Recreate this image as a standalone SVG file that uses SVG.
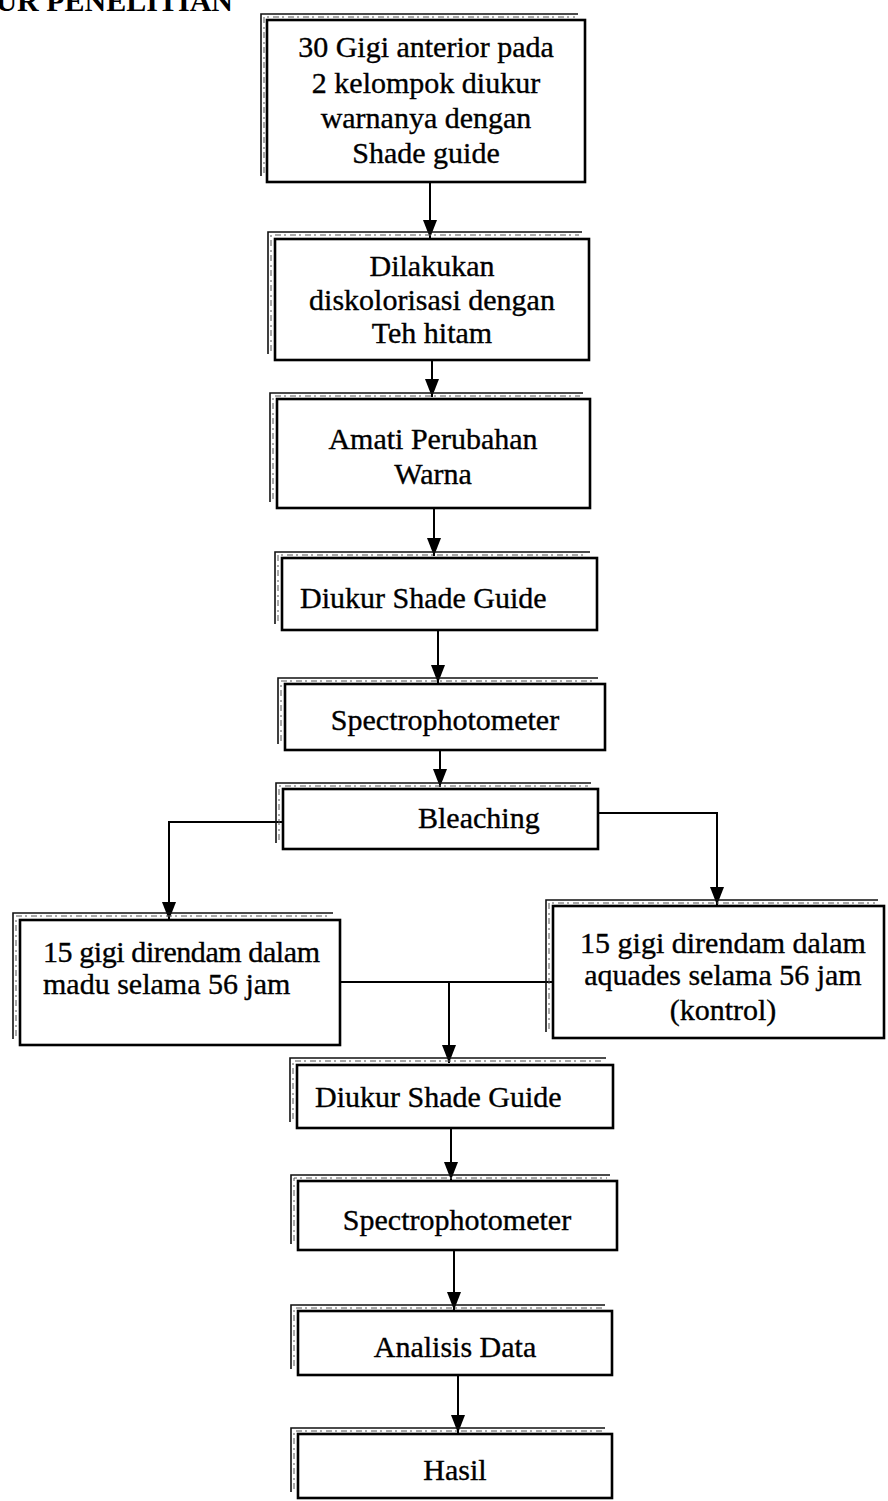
<svg xmlns="http://www.w3.org/2000/svg" width="888" height="1501" viewBox="0 0 888 1501">
<style>
.box{fill:#fff;stroke:#000;stroke-width:2.6}
.sh{fill:none;stroke:#111;stroke-width:1.6}
.sh2{fill:none;stroke:#555;stroke-width:1;stroke-dasharray:6 3 2 4}
.t{font-family:"Liberation Serif","Times New Roman",serif;font-size:30px;fill:#000;stroke:#000;stroke-width:0.35}
.c{text-anchor:middle}
.ln{fill:none;stroke:#000;stroke-width:2}
.title{font-family:"Liberation Serif","Times New Roman",serif;font-size:30px;font-weight:bold;fill:#000}
</style>
<defs>
<marker id="ah" viewBox="0 0 18 14" refX="18" refY="7" markerWidth="18" markerHeight="14" markerUnits="userSpaceOnUse" orient="auto">
<path d="M0,0 L18,7 L0,14 Z" fill="#000"/>
</marker>
</defs>
<rect width="888" height="1501" fill="#fff"/>
<text class="title" x="233" y="11" text-anchor="end">UR PENELITIAN</text>

<g id="connectors">
<path class="ln" d="M430,182 V238" marker-end="url(#ah)"/>
<path class="ln" d="M432,360 V397" marker-end="url(#ah)"/>
<path class="ln" d="M434,508 V556" marker-end="url(#ah)"/>
<path class="ln" d="M438,630 V683" marker-end="url(#ah)"/>
<path class="ln" d="M440,750 V787" marker-end="url(#ah)"/>
<path class="ln" d="M283,822 H169 V920" marker-end="url(#ah)"/>
<path class="ln" d="M598,813 H717 V905" marker-end="url(#ah)"/>
<path class="ln" d="M340,982 H553"/>
<path class="ln" d="M449,982 V1063" marker-end="url(#ah)"/>
<path class="ln" d="M451,1128 V1180" marker-end="url(#ah)"/>
<path class="ln" d="M454,1250 V1310" marker-end="url(#ah)"/>
<path class="ln" d="M458,1375 V1433" marker-end="url(#ah)"/>
</g>

<g id="n1">
<path class="sh" d="M261,176 V14 H578"/><path class="sh2" d="M264,173 V17 H575"/>
<rect class="box" x="267" y="20" width="318" height="162"/>
<text class="t c" x="426" y="57">30 Gigi anterior pada</text>
<text class="t c" x="426" y="93">2 kelompok diukur</text>
<text class="t c" x="426" y="128">warnanya dengan</text>
<text class="t c" x="426" y="163">Shade guide</text>
</g>

<g id="n2">
<path class="sh" d="M268,354 V232 H582"/><path class="sh2" d="M271,351 V235 H579"/>
<rect class="box" x="275" y="239" width="314" height="121"/>
<text class="t c" x="432" y="276">Dilakukan</text>
<text class="t c" x="432" y="310">diskolorisasi dengan</text>
<text class="t c" x="432" y="343">Teh hitam</text>
</g>

<g id="n3">
<path class="sh" d="M270,502 V393 H583"/><path class="sh2" d="M273,499 V396 H580"/>
<rect class="box" x="277" y="399" width="313" height="109"/>
<text class="t c" x="433" y="449">Amati Perubahan</text>
<text class="t c" x="433" y="484">Warna</text>
</g>

<g id="n4">
<path class="sh" d="M275,624 V552 H590"/><path class="sh2" d="M278,621 V555 H587"/>
<rect class="box" x="282" y="558" width="315" height="72"/>
<text class="t" x="300" y="608">Diukur Shade Guide</text>
</g>

<g id="n5">
<path class="sh" d="M278,744 V678 H598"/><path class="sh2" d="M281,741 V681 H595"/>
<rect class="box" x="285" y="684" width="320" height="66"/>
<text class="t c" x="445" y="730">Spectrophotometer</text>
</g>

<g id="n6">
<path class="sh" d="M276,843 V783 H591"/><path class="sh2" d="M279,840 V786 H588"/>
<rect class="box" x="283" y="789" width="315" height="60"/>
<text class="t" x="418" y="828">Bleaching</text>
</g>

<g id="n7">
<path class="sh" d="M13,1039 V913 H333"/><path class="sh2" d="M16,1036 V916 H330"/>
<rect class="box" x="20" y="920" width="320" height="125"/>
<text class="t" x="43" y="962" textLength="277" lengthAdjust="spacing">15 gigi direndam dalam</text>
<text class="t" x="43" y="994">madu selama 56 jam</text>
</g>

<g id="n8">
<path class="sh" d="M546,1032 V900 H878"/><path class="sh2" d="M549,1029 V903 H875"/>
<rect class="box" x="553" y="906" width="331" height="132"/>
<text class="t c" x="723" y="953">15 gigi direndam dalam</text>
<text class="t c" x="723" y="985">aquades selama 56 jam</text>
<text class="t c" x="723" y="1020">(kontrol)</text>
</g>

<g id="n9">
<path class="sh" d="M290,1122 V1058 H606"/><path class="sh2" d="M293,1119 V1061 H603"/>
<rect class="box" x="297" y="1065" width="316" height="63"/>
<text class="t" x="315" y="1107">Diukur Shade Guide</text>
</g>

<g id="n10">
<path class="sh" d="M291,1244 V1175 H610"/><path class="sh2" d="M294,1241 V1178 H607"/>
<rect class="box" x="298" y="1181" width="319" height="69"/>
<text class="t c" x="457" y="1230">Spectrophotometer</text>
</g>

<g id="n11">
<path class="sh" d="M291,1369 V1305 H605"/><path class="sh2" d="M294,1366 V1308 H602"/>
<rect class="box" x="298" y="1311" width="314" height="64"/>
<text class="t c" x="455" y="1357">Analisis Data</text>
</g>

<g id="n12">
<path class="sh" d="M291,1492 V1428 H605"/><path class="sh2" d="M294,1489 V1431 H602"/>
<rect class="box" x="298" y="1434" width="314" height="64"/>
<text class="t c" x="455" y="1480">Hasil</text>
</g>
</svg>
